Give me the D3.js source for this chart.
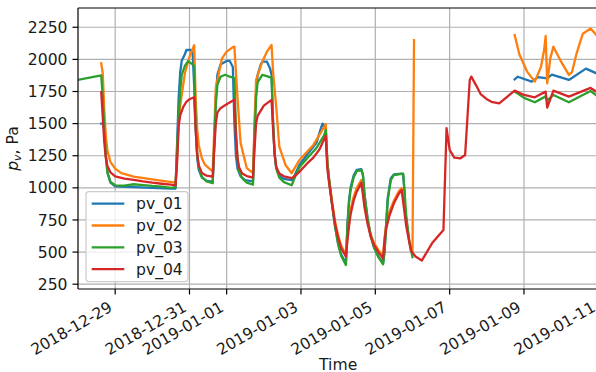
<!DOCTYPE html>
<html>
<head>
<meta charset="utf-8">
<script src="https://cdn.jsdelivr.net/npm/d3@7"></script>
<style>
  body { margin: 0; background: #fff; }
  svg { display: block; }
  text { font-family: "DejaVu Sans", sans-serif; fill: #1a1a1a; }
</style>
</head>
<body>
<svg id="chart" width="596" height="372"></svg>
<script>
// Water vapour pressure readings, one array per sensor: [timestamp, Pa]; null breaks the line
const seriesNames = ["pv_01", "pv_02", "pv_03", "pv_04"];
const seriesColors = ["#1f77b4", "#ff7f0e", "#2ca02c", "#d62728"];

const pv01 = [
  ["2018-12-28 15:00", 1500], ["2018-12-28 16:00", 1500], ["2018-12-28 17:00", 1450], ["2018-12-28 18:00", 1250],
  ["2018-12-28 19:00", 1120], ["2018-12-28 21:00", 1040], ["2018-12-29 00:00", 1012], ["2018-12-29 12:00", 1005],
  ["2018-12-30 00:00", 1000], ["2018-12-30 12:00", 995], ["2018-12-30 15:00", 995],
  ["2018-12-30 16:00", 1350], ["2018-12-30 17:00", 1700], ["2018-12-30 18:00", 1900], ["2018-12-30 19:00", 1990],
  ["2018-12-30 21:00", 2040], ["2018-12-30 22:00", 2073], ["2018-12-31 01:00", 2073], ["2018-12-31 02:00", 2050],
  ["2018-12-31 03:00", 1800], ["2018-12-31 04:00", 1450], ["2018-12-31 05:00", 1230], ["2018-12-31 06:00", 1140],
  ["2018-12-31 08:00", 1080], ["2018-12-31 11:00", 1055], ["2018-12-31 15:00", 1048],
  ["2018-12-31 16:00", 1350], ["2018-12-31 17:00", 1700], ["2018-12-31 18:00", 1880], ["2018-12-31 20:00", 1960],
  ["2019-01-01 00:00", 1988], ["2019-01-01 02:00", 1988], ["2019-01-01 04:00", 1940], ["2019-01-01 05:00", 1500],
  ["2019-01-01 06:00", 1250], ["2019-01-01 07:00", 1150], ["2019-01-01 09:00", 1090], ["2019-01-01 12:00", 1060],
  ["2019-01-01 17:00", 1050],
  ["2019-01-01 18:00", 1450], ["2019-01-01 19:00", 1750], ["2019-01-01 20:00", 1880], ["2019-01-01 22:00", 1960],
  ["2019-01-01 23:00", 1982], ["2019-01-02 02:00", 1982], ["2019-01-02 04:00", 1930], ["2019-01-02 05:00", 1880],
  ["2019-01-02 06:00", 1500], ["2019-01-02 07:00", 1260], ["2019-01-02 08:00", 1160], ["2019-01-02 10:00", 1095],
  ["2019-01-02 13:00", 1070], ["2019-01-02 18:00", 1060],
  ["2019-01-02 20:00", 1100], ["2019-01-02 23:00", 1180], ["2019-01-03 04:00", 1260], ["2019-01-03 10:00", 1350],
  ["2019-01-03 13:00", 1470], ["2019-01-03 14:00", 1500], ["2019-01-03 16:00", 1460],
  ["2019-01-03 17:00", 1200], ["2019-01-03 18:00", 1080], ["2019-01-03 20:00", 880], ["2019-01-03 22:00", 700],
  ["2019-01-04 00:00", 565], ["2019-01-04 02:00", 480], ["2019-01-04 05:00", 410],
  ["2019-01-04 06:00", 720], ["2019-01-04 07:00", 900], ["2019-01-04 08:00", 1000], ["2019-01-04 10:00", 1095],
  ["2019-01-04 12:00", 1140], ["2019-01-04 15:00", 1145],
  ["2019-01-04 16:00", 1100], ["2019-01-04 17:00", 950], ["2019-01-04 19:00", 760], ["2019-01-04 21:00", 630],
  ["2019-01-04 23:00", 545], ["2019-01-05 02:00", 465], ["2019-01-05 05:00", 415],
  ["2019-01-05 06:00", 520], ["2019-01-05 07:00", 720], ["2019-01-05 08:00", 920], ["2019-01-05 10:00", 1075],
  ["2019-01-05 12:00", 1105], ["2019-01-05 17:00", 1110], ["2019-01-05 18:00", 1100], ["2019-01-05 19:00", 950],
  ["2019-01-05 20:00", null],
  ["2019-01-08 18:00", 1845], ["2019-01-08 20:00", 1865], ["2019-01-09 05:00", 1827], ["2019-01-09 09:00", 1862],
  ["2019-01-09 15:00", 1853], ["2019-01-09 18:00", 1882], ["2019-01-10 05:00", 1840], ["2019-01-10 16:00", 1928],
  ["2019-01-11 00:00", 1885]
];

const pv02 = [
  ["2018-12-28 15:00", 1970], ["2018-12-28 16:00", 1890], ["2018-12-28 17:00", 1600], ["2018-12-28 18:00", 1400],
  ["2018-12-28 19:00", 1290], ["2018-12-28 21:00", 1200], ["2018-12-29 00:00", 1150], ["2018-12-29 04:00", 1114],
  ["2018-12-29 12:00", 1087], ["2018-12-30 02:00", 1062], ["2018-12-30 15:00", 1041],
  ["2018-12-30 16:00", 1250], ["2018-12-30 17:00", 1500], ["2018-12-30 18:00", 1640], ["2018-12-30 21:00", 1890],
  ["2018-12-31 00:00", 2020], ["2018-12-31 03:00", 2110],
  ["2018-12-31 04:00", 1700], ["2018-12-31 05:00", 1450], ["2018-12-31 06:00", 1330], ["2018-12-31 08:00", 1230],
  ["2018-12-31 10:00", 1180], ["2018-12-31 15:00", 1126],
  ["2018-12-31 16:00", 1450], ["2018-12-31 17:00", 1780], ["2018-12-31 21:00", 2008], ["2019-01-01 00:00", 2060],
  ["2019-01-01 04:00", 2095], ["2019-01-01 05:00", 2099],
  ["2019-01-01 07:00", 1700], ["2019-01-01 09:00", 1350], ["2019-01-01 13:00", 1153], ["2019-01-01 17:00", 1114],
  ["2019-01-01 18:00", 1500], ["2019-01-01 19:00", 1840], ["2019-01-01 23:00", 1982], ["2019-01-02 02:00", 2060],
  ["2019-01-02 05:00", 2112],
  ["2019-01-02 06:00", 1900], ["2019-01-02 08:00", 1632], ["2019-01-02 10:00", 1320], ["2019-01-02 14:00", 1178],
  ["2019-01-02 18:00", 1114],
  ["2019-01-02 23:00", 1217], ["2019-01-03 08:00", 1334], ["2019-01-03 16:00", 1495],
  ["2019-01-03 17:00", 1200], ["2019-01-03 18:00", 1080], ["2019-01-03 20:00", 900], ["2019-01-03 22:00", 740],
  ["2019-01-04 00:00", 630], ["2019-01-04 02:00", 550], ["2019-01-04 05:00", 480],
  ["2019-01-04 06:00", 620], ["2019-01-04 07:00", 740], ["2019-01-04 08:00", 830], ["2019-01-04 10:00", 930],
  ["2019-01-04 12:00", 1000], ["2019-01-04 15:00", 1062],
  ["2019-01-04 16:00", 970], ["2019-01-04 17:00", 870], ["2019-01-04 19:00", 740], ["2019-01-04 21:00", 640],
  ["2019-01-04 23:00", 575], ["2019-01-05 02:00", 515], ["2019-01-05 05:00", 470],
  ["2019-01-05 06:00", 620], ["2019-01-05 07:00", 710], ["2019-01-05 09:00", 810], ["2019-01-05 12:00", 900],
  ["2019-01-05 15:00", 970], ["2019-01-05 17:00", 1000],
  ["2019-01-05 20:00", 760], ["2019-01-05 22:00", 580], ["2019-01-06 00:00", 490], ["2019-01-06 01:00", 2150],
  ["2019-01-06 02:00", null],
  ["2019-01-08 18:00", 2190], ["2019-01-08 21:00", 2040], ["2019-01-09 02:00", 1905], ["2019-01-09 07:00", 1827],
  ["2019-01-09 11:00", 1943], ["2019-01-09 13:00", 2073], ["2019-01-09 14:00", 2182], ["2019-01-09 15:00", 1814],
  ["2019-01-09 17:00", 2008], ["2019-01-09 19:00", 2099], ["2019-01-10 00:00", 1982], ["2019-01-10 05:00", 1879],
  ["2019-01-10 07:00", 1900], ["2019-01-10 10:00", 2047], ["2019-01-10 14:00", 2200], ["2019-01-10 19:00", 2240],
  ["2019-01-10 22:00", 2200], ["2019-01-11 00:00", 2170]
];

const pv03 = [
  ["2018-12-28 00:00", 1840], ["2018-12-28 15:00", 1875], ["2018-12-28 16:00", 1700], ["2018-12-28 17:00", 1450],
  ["2018-12-28 18:00", 1250], ["2018-12-28 19:00", 1120], ["2018-12-28 21:00", 1045], ["2018-12-29 00:00", 1020],
  ["2018-12-29 06:00", 1018], ["2018-12-29 12:00", 1028], ["2018-12-29 18:00", 1022], ["2018-12-30 00:00", 1015],
  ["2018-12-30 06:00", 1010], ["2018-12-30 12:00", 1000], ["2018-12-30 15:00", 1005],
  ["2018-12-30 16:00", 1300], ["2018-12-30 17:00", 1550], ["2018-12-30 18:00", 1760], ["2018-12-30 19:00", 1880],
  ["2018-12-30 21:00", 1950], ["2018-12-30 23:00", 1985], ["2018-12-31 01:00", 1970], ["2018-12-31 03:00", 1950],
  ["2018-12-31 04:00", 1500], ["2018-12-31 05:00", 1260], ["2018-12-31 06:00", 1160], ["2018-12-31 08:00", 1085],
  ["2018-12-31 11:00", 1050], ["2018-12-31 15:00", 1036],
  ["2018-12-31 16:00", 1350], ["2018-12-31 17:00", 1650], ["2018-12-31 18:00", 1800], ["2018-12-31 20:00", 1865],
  ["2018-12-31 23:00", 1880], ["2019-01-01 02:00", 1865], ["2019-01-01 05:00", 1855],
  ["2019-01-01 06:00", 1450], ["2019-01-01 07:00", 1230], ["2019-01-01 08:00", 1130], ["2019-01-01 10:00", 1075],
  ["2019-01-01 13:00", 1040], ["2019-01-01 17:00", 1025],
  ["2019-01-01 18:00", 1400], ["2019-01-01 19:00", 1700], ["2019-01-01 20:00", 1820], ["2019-01-01 23:00", 1880],
  ["2019-01-02 02:00", 1870], ["2019-01-02 05:00", 1855],
  ["2019-01-02 06:00", 1500], ["2019-01-02 07:00", 1260], ["2019-01-02 08:00", 1150], ["2019-01-02 10:00", 1080],
  ["2019-01-02 13:00", 1045], ["2019-01-02 18:00", 1020],
  ["2019-01-02 20:00", 1080], ["2019-01-02 23:00", 1160], ["2019-01-03 04:00", 1230], ["2019-01-03 10:00", 1310],
  ["2019-01-03 15:00", 1410], ["2019-01-03 16:00", 1450],
  ["2019-01-03 17:00", 1200], ["2019-01-03 18:00", 1080], ["2019-01-03 20:00", 880], ["2019-01-03 22:00", 700],
  ["2019-01-04 00:00", 560], ["2019-01-04 02:00", 470], ["2019-01-04 05:00", 400],
  ["2019-01-04 06:00", 700], ["2019-01-04 07:00", 880], ["2019-01-04 08:00", 980], ["2019-01-04 10:00", 1080],
  ["2019-01-04 12:00", 1130], ["2019-01-04 15:00", 1140],
  ["2019-01-04 16:00", 1100], ["2019-01-04 17:00", 950], ["2019-01-04 19:00", 760], ["2019-01-04 21:00", 630],
  ["2019-01-04 23:00", 540], ["2019-01-05 02:00", 460], ["2019-01-05 05:00", 405],
  ["2019-01-05 06:00", 500], ["2019-01-05 07:00", 700], ["2019-01-05 08:00", 900], ["2019-01-05 10:00", 1060],
  ["2019-01-05 12:00", 1100], ["2019-01-05 18:00", 1110],
  ["2019-01-05 19:00", 950], ["2019-01-05 20:00", 780], ["2019-01-05 22:00", 580], ["2019-01-06 00:00", 460],
  ["2019-01-06 01:00", null],
  ["2019-01-08 18:00", 1750], ["2019-01-09 00:00", 1700], ["2019-01-09 07:00", 1666], ["2019-01-09 14:00", 1712],
  ["2019-01-09 15:00", 1680], ["2019-01-09 19:00", 1723], ["2019-01-10 05:00", 1666], ["2019-01-10 19:00", 1754],
  ["2019-01-11 00:00", 1710]
];

const pv04 = [
  ["2018-12-28 15:00", 1745], ["2018-12-28 16:00", 1550], ["2018-12-28 17:00", 1350], ["2018-12-28 18:00", 1230],
  ["2018-12-28 19:00", 1170], ["2018-12-28 21:00", 1120], ["2018-12-29 00:00", 1090], ["2018-12-29 06:00", 1072],
  ["2018-12-29 12:00", 1062], ["2018-12-29 18:00", 1050], ["2018-12-30 00:00", 1040], ["2018-12-30 06:00", 1032],
  ["2018-12-30 12:00", 1025], ["2018-12-30 15:00", 1020],
  ["2018-12-30 16:00", 1200], ["2018-12-30 17:00", 1480], ["2018-12-30 18:00", 1565], ["2018-12-30 20:00", 1630],
  ["2018-12-30 22:00", 1670], ["2018-12-31 00:00", 1690], ["2018-12-31 03:00", 1705],
  ["2018-12-31 04:00", 1450], ["2018-12-31 05:00", 1260], ["2018-12-31 06:00", 1175], ["2018-12-31 08:00", 1115],
  ["2018-12-31 11:00", 1095], ["2018-12-31 15:00", 1087],
  ["2018-12-31 16:00", 1300], ["2018-12-31 17:00", 1500], ["2018-12-31 18:00", 1585], ["2018-12-31 20:00", 1620],
  ["2019-01-01 00:00", 1650], ["2019-01-01 05:00", 1685],
  ["2019-01-01 06:00", 1400], ["2019-01-01 07:00", 1230], ["2019-01-01 08:00", 1160], ["2019-01-01 10:00", 1112],
  ["2019-01-01 13:00", 1092], ["2019-01-01 17:00", 1080],
  ["2019-01-01 18:00", 1300], ["2019-01-01 19:00", 1500], ["2019-01-01 20:00", 1560], ["2019-01-02 00:00", 1640],
  ["2019-01-02 05:00", 1685],
  ["2019-01-02 06:00", 1450], ["2019-01-02 07:00", 1260], ["2019-01-02 08:00", 1165], ["2019-01-02 10:00", 1112],
  ["2019-01-02 13:00", 1090], ["2019-01-02 18:00", 1075],
  ["2019-01-02 20:00", 1092], ["2019-01-02 23:00", 1125], ["2019-01-03 04:00", 1190], ["2019-01-03 08:00", 1235],
  ["2019-01-03 12:00", 1300], ["2019-01-03 15:00", 1380], ["2019-01-03 16:00", 1405],
  ["2019-01-03 17:00", 1150], ["2019-01-03 18:00", 1050], ["2019-01-03 20:00", 880], ["2019-01-03 22:00", 720],
  ["2019-01-04 00:00", 610], ["2019-01-04 02:00", 530], ["2019-01-04 05:00", 465],
  ["2019-01-04 06:00", 590], ["2019-01-04 07:00", 700], ["2019-01-04 08:00", 790], ["2019-01-04 10:00", 900],
  ["2019-01-04 12:00", 970], ["2019-01-04 15:00", 1040],
  ["2019-01-04 16:00", 950], ["2019-01-04 17:00", 850], ["2019-01-04 19:00", 720], ["2019-01-04 21:00", 620],
  ["2019-01-04 23:00", 560], ["2019-01-05 02:00", 500], ["2019-01-05 05:00", 450],
  ["2019-01-05 06:00", 595], ["2019-01-05 07:00", 680], ["2019-01-05 09:00", 780], ["2019-01-05 12:00", 880],
  ["2019-01-05 15:00", 950], ["2019-01-05 17:00", 984],
  ["2019-01-05 20:00", 700], ["2019-01-05 23:00", 510], ["2019-01-06 02:00", 465], ["2019-01-06 06:00", 434],
  ["2019-01-06 13:00", 575], ["2019-01-06 20:00", 672], ["2019-01-06 22:00", 1464], ["2019-01-07 00:00", 1295],
  ["2019-01-07 03:00", 1235], ["2019-01-07 07:00", 1230], ["2019-01-07 10:00", 1256], ["2019-01-07 13:00", 1840],
  ["2019-01-07 14:00", 1866], ["2019-01-07 17:00", 1800], ["2019-01-07 20:00", 1730], ["2019-01-08 00:00", 1690],
  ["2019-01-08 03:00", 1670], ["2019-01-08 08:00", 1658], ["2019-01-08 18:00", 1757], ["2019-01-09 00:00", 1723],
  ["2019-01-09 07:00", 1705], ["2019-01-09 14:00", 1749], ["2019-01-09 15:00", 1625], ["2019-01-09 19:00", 1757],
  ["2019-01-10 05:00", 1710], ["2019-01-10 19:00", 1778], ["2019-01-11 00:00", 1740]
];

const seriesData = [pv01, pv02, pv03, pv04];

const yTicks = [250, 500, 750, 1000, 1250, 1500, 1750, 2000, 2250];
const xTickLabels = ["2018-12-29", "2018-12-31", "2019-01-01", "2019-01-03",
                     "2019-01-05", "2019-01-07", "2019-01-09", "2019-01-11"];
const xExtent = ["2018-12-28 00:00", "2019-01-11 00:00"];
const yExtent = [212.6, 2400];
const xLabel = "Time";

// ---- layout ----
const fs = 15.6;           // base font size (px)
const tickLen = 5.5, tickPad = 5.5;
const plot = { left: 78, top: 8, right: 598.3, bottom: 289 };
const parseTime = d3.timeParse("%Y-%m-%d %H:%M");
const parseDay = d3.timeParse("%Y-%m-%d");

const svg = d3.select("#chart");

const x = d3.scaleTime()
  .domain(xExtent.map(parseTime))
  .range([plot.left, plot.right]);
const y = d3.scaleLinear()
  .domain(yExtent)
  .range([plot.bottom, plot.top]);

svg.append("defs").append("clipPath").attr("id", "plot-clip")
  .append("rect")
  .attr("x", plot.left).attr("y", plot.top)
  .attr("width", plot.right - plot.left).attr("height", plot.bottom - plot.top);

// grid
const grid = svg.append("g").attr("stroke", "#b0b0b0").attr("stroke-width", 1.2);
grid.selectAll("line.gx").data(xTickLabels).join("line")
  .attr("x1", d => x(parseDay(d))).attr("x2", d => x(parseDay(d)))
  .attr("y1", plot.top).attr("y2", plot.bottom);
grid.selectAll("line.gy").data(yTicks).join("line")
  .attr("x1", plot.left).attr("x2", plot.right)
  .attr("y1", d => y(d)).attr("y2", d => y(d));

// series lines
const line = d3.line()
  .defined(d => d[1] != null)
  .x(d => x(parseTime(d[0])))
  .y(d => y(d[1]));

svg.append("g").attr("clip-path", "url(#plot-clip)")
  .selectAll("path").data(seriesData).join("path")
  .attr("d", line)
  .attr("fill", "none")
  .attr("stroke", (d, i) => seriesColors[i])
  .attr("stroke-width", 2.3)
  .attr("stroke-linejoin", "round")
  .attr("stroke-linecap", "square");

// spines
const spines = svg.append("g").attr("stroke", "#000").attr("stroke-width", 1.2);
spines.append("line").attr("x1", plot.left).attr("x2", plot.left).attr("y1", plot.top).attr("y2", plot.bottom);
spines.append("line").attr("x1", plot.left).attr("x2", plot.right).attr("y1", plot.bottom).attr("y2", plot.bottom);
spines.append("line").attr("x1", plot.left).attr("x2", plot.right).attr("y1", plot.top).attr("y2", plot.top);
spines.append("line").attr("x1", plot.right).attr("x2", plot.right).attr("y1", plot.top).attr("y2", plot.bottom);

// y axis
const yAxis = svg.append("g");
yAxis.selectAll("line").data(yTicks).join("line")
  .attr("x1", plot.left - tickLen).attr("x2", plot.left)
  .attr("y1", d => y(d)).attr("y2", d => y(d))
  .attr("stroke", "#000").attr("stroke-width", 1.2);
yAxis.selectAll("text").data(yTicks).join("text")
  .attr("x", plot.left - tickLen - tickPad + 0.5)
  .attr("y", d => y(d))
  .attr("dy", "0.36em")
  .attr("text-anchor", "end")
  .attr("font-size", fs)
  .text(d => d);

// x axis: labels rotated 30 degrees, right-aligned under each tick
const xAxis = svg.append("g");
xAxis.selectAll("line").data(xTickLabels).join("line")
  .attr("x1", d => x(parseDay(d))).attr("x2", d => x(parseDay(d)))
  .attr("y1", plot.bottom).attr("y2", plot.bottom + tickLen)
  .attr("stroke", "#000").attr("stroke-width", 1.2);
const labelTop = plot.bottom + tickLen + tickPad;
const boxH = 0.99 * fs;
xAxis.selectAll("text").data(xTickLabels).join("text")
  .attr("transform", d => `translate(${x(parseDay(d))},${labelTop + boxH * Math.cos(Math.PI / 6)}) rotate(-30)`)
  .attr("dy", "-0.23em")
  .attr("text-anchor", "end")
  .attr("font-size", fs)
  .text(d => d);

svg.append("text")
  .attr("x", (plot.left + plot.right) / 2)
  .attr("y", 369.5)
  .attr("text-anchor", "middle")
  .attr("font-size", fs)
  .text(xLabel);

// y label: italic p with subscript v
const yl = svg.append("text")
  .attr("transform", `translate(18,${(plot.top + plot.bottom) / 2}) rotate(-90)`)
  .attr("text-anchor", "middle")
  .attr("font-size", fs);
yl.append("tspan").attr("font-style", "italic").text("p");
yl.append("tspan").attr("font-style", "italic").attr("font-size", fs * 0.7).attr("dy", 3.2).text("v");
yl.append("tspan").attr("dy", -3.2).text(", Pa");

// legend
const legend = svg.append("g");
legend.append("rect")
  .attr("x", 86).attr("y", 191.7).attr("width", 102).attr("height", 90)
  .attr("rx", 3)
  .attr("fill", "#fff").attr("fill-opacity", 0.8)
  .attr("stroke", "#cccccc").attr("stroke-width", 1.2);
const items = legend.selectAll("g.item").data(seriesNames).join("g")
  .attr("transform", (d, i) => `translate(0,${203.7 + i * 21.8})`);
items.append("line")
  .attr("x1", 91.7).attr("x2", 124.3)
  .attr("stroke", (d, i) => seriesColors[i]).attr("stroke-width", 2.3);
items.append("text")
  .attr("x", 136).attr("dy", "0.36em")
  .attr("font-size", fs)
  .text(d => d);
</script>
</body>
</html>
